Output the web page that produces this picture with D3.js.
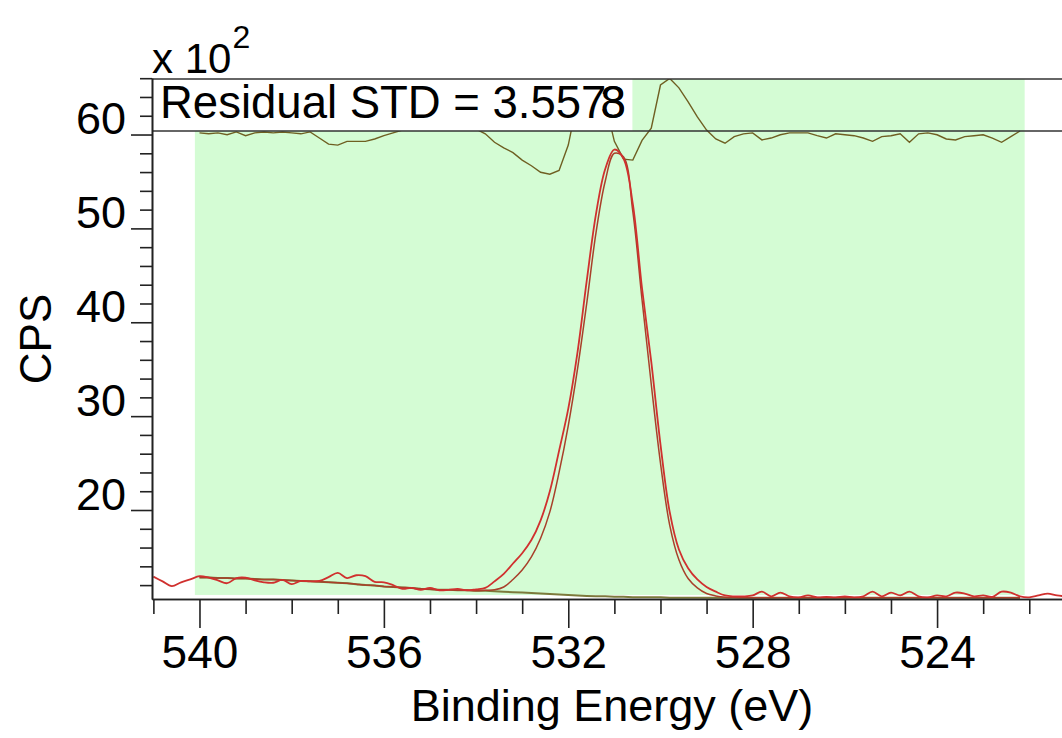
<!DOCTYPE html>
<html><head><meta charset="utf-8">
<script src="https://cdn.jsdelivr.net/npm/d3@7"></script>
<style>
body{margin:0;background:#fff;}
svg{display:block;}
text{font-family:"Liberation Sans",Arial,sans-serif;fill:#000;}
</style>
</head><body>
<svg id="c" width="1062" height="738"></svg>
<script>
// ---------- data (CPS in units of x10^2) ----------
const dataEnergy = [541.0,540.8,540.6,540.4,540.2,540.0,539.8,539.6,539.4,539.2,539.0,538.8,538.6,538.4,538.2,538.0,537.8,537.6,537.4,537.2,537.0,536.8,536.6,536.4,536.2,536.0,535.8,535.6,535.4,535.2,535.0,534.8,534.6,534.4,534.2,534.0,533.8,533.6,533.4,533.2,533.0,532.8,532.6,532.4,532.2,532.0,531.8,531.6,531.4,531.2,531.0,530.8,530.6,530.4,530.2,530.0,529.8,529.6,529.4,529.2,529.0,528.8,528.6,528.4,528.2,528.0,527.8,527.6,527.4,527.2,527.0,526.8,526.6,526.4,526.2,526.0,525.8,525.6,525.4,525.2,525.0,524.8,524.6,524.4,524.2,524.0,523.8,523.6,523.4,523.2,523.0,522.8,522.6,522.4,522.2,522.0,521.8,521.6,521.4,521.2];
const dataCPS = [12.9,12.4,11.9,12.3,12.6,12.95,12.8,12.5,12.2,12.75,12.8,12.5,12.3,12.25,12.55,12.1,12.45,12.4,12.45,12.85,13.3,12.75,13.05,12.95,12.35,12.3,12.0,11.6,11.7,11.5,11.7,11.45,11.5,11.6,11.45,11.55,11.7,12.4,13.2,14.3,15.4,16.8,18.9,22.0,26.3,30.8,36.8,44.4,51.5,56.3,58.4,57.4,52.6,43.6,35.8,27.0,19.8,15.8,13.8,12.6,11.8,11.3,10.9,10.8,10.8,10.9,11.3,10.8,11.2,10.8,10.7,10.9,10.7,10.75,10.7,10.8,10.7,10.8,11.3,10.8,11.2,10.9,11.3,10.8,10.7,10.9,10.8,11.2,11.1,10.8,10.9,10.75,11.3,11.2,10.8,10.7,10.9,11.1,10.9,10.8];

const fitEnergy = [540.0,539.8,539.6,539.4,539.2,539.0,538.8,538.6,538.4,538.2,538.0,537.8,537.6,537.4,537.2,537.0,536.8,536.6,536.4,536.2,536.0,535.8,535.6,535.4,535.2,535.0,534.8,534.6,534.4,534.2,534.0,533.8,533.6,533.4,533.2,533.0,532.8,532.6,532.4,532.2,532.0,531.8,531.6,531.4,531.2,531.0,530.8,530.6,530.4,530.2,530.0,529.8,529.6,529.4,529.2,529.0,528.8,528.6,528.4,528.2,528.0,527.8,527.6,527.4,527.2,527.0,526.8,526.6,526.4,526.2,526.0,525.8,525.6,525.4,525.2,525.0,524.8,524.6,524.4,524.2,524.0,523.8,523.6,523.4,523.2,523.0,522.8,522.6,522.4,522.2];
const backgroundCPS = [12.8,12.8,12.75,12.75,12.7,12.7,12.65,12.6,12.6,12.55,12.5,12.45,12.4,12.35,12.3,12.25,12.2,12.1,12.0,11.95,11.85,11.8,11.75,11.7,11.6,11.55,11.5,11.5,11.45,11.45,11.4,11.4,11.35,11.3,11.25,11.2,11.15,11.1,11.05,11.0,10.95,10.9,10.85,10.8,10.8,10.75,10.75,10.7,10.7,10.7,10.7,10.65,10.65,10.65,10.65,10.65,10.65,10.65,10.65,10.65,10.65,10.65,10.65,10.65,10.65,10.65,10.65,10.65,10.65,10.65,10.65,10.65,10.65,10.65,10.65,10.65,10.65,10.65,10.65,10.65,10.65,10.65,10.65,10.65,10.65,10.65,10.65,10.65,10.65,10.65];
const envelopeCPS = [12.8,12.8,12.75,12.75,12.7,12.7,12.65,12.6,12.6,12.55,12.5,12.45,12.4,12.35,12.3,12.25,12.2,12.1,12.0,11.95,11.85,11.8,11.75,11.7,11.6,11.55,11.5,11.5,11.45,11.45,11.4,11.45,11.5,11.8,12.6,13.6,15.0,17.0,19.8,24.0,29.0,35.0,42.0,49.5,55.0,58.0,57.6,51.8,42.4,33.4,25.0,18.4,14.7,12.7,11.7,11.1,10.85,10.7,10.67,10.65,10.65,10.65,10.65,10.65,10.65,10.65,10.65,10.65,10.65,10.65,10.65,10.65,10.65,10.65,10.65,10.65,10.65,10.65,10.65,10.65,10.65,10.65,10.65,10.65,10.65,10.65,10.65,10.65,10.65,10.65];
const residualCPS = [-0.2,-0.3,-0.2,-0.4,-0.1,-0.5,-0.2,-0.1,-0.2,-0.1,-0.2,-0.3,-0.1,-0.75,-1.4,-1.5,-1.1,-1.1,-1.1,-0.85,-0.5,-0.2,0.1,0.5,0.6,0.7,0.7,0.6,0.5,0.4,0.2,-0.3,-1.2,-1.8,-2.3,-3.1,-3.7,-4.4,-4.6,-4.2,-1.5,3.3,5.0,5.5,3.0,-1.1,-3.0,-3.1,-1.0,0.3,4.9,5.6,4.6,3.1,1.5,0.1,-0.85,-1.3,-0.6,-0.3,-0.2,-0.95,-0.75,-0.4,-0.2,-0.2,-0.2,-0.5,-0.75,-0.3,-0.4,-0.5,-0.75,-1.1,-0.6,-0.5,-0.3,-1.2,-0.3,-0.2,-0.4,-0.85,-0.95,-0.6,-0.5,-0.4,-0.75,-1.2,-0.6,0.0];

const regionStart = 540.1, regionEnd = 522.1;
const xMajorTicks = [540,536,532,528,524];
const xMinorTicks = [541,539,538,537,535,534,533,531,530,529,527,526,525,523,522];
const yMajorTicks = [20,30,40,50,60];
const yMinorTicks = [12,14,16,18,22,24,26,28,32,34,36,38,42,44,46,48,52,54,56,58,62,64,66];
const residualLabel = "Residual STD = 3.557";
const residualOverlap = ["8","3"];

// ---------- layout ----------
const L = 152, R = 1062, T = 78.2, B = 599;
const svg = d3.select('#c');
const x = d3.scaleLinear().domain([541.03, 521.29]).range([L, R]);
const y = d3.scaleLinear().domain([10.52, 66]).range([B, T]);
const resZero = 131;
const resY = d3.scaleLinear().domain([0, 1]).range([resZero, resZero - (y(20) - y(21))]);

const defs = svg.append('defs');
defs.append('clipPath').attr('id','plot').append('rect')
  .attr('x', L).attr('y', 79).attr('width', R - L).attr('height', B - 79);

// fit region
svg.append('rect')
  .attr('x', x(regionStart)).attr('y', 79)
  .attr('width', x(regionEnd) - x(regionStart))
  .attr('height', y(10.95) - 79)
  .attr('fill', '#d4fcd4');

const g = svg.append('g').attr('clip-path','url(#plot)');
const smooth = d3.curveCatmullRom.alpha(0.5);

// residual
g.append('path')
  .attr('d', d3.line().x((d,i)=>x(fitEnergy[i])).y(d=>resY(d))(residualCPS))
  .attr('fill','none').attr('stroke','#6f5f22').attr('stroke-width',1.4);

// residual label box
const boxRect = svg.append('rect').attr('x', L).attr('y', 79).attr('height', 52).attr('fill', '#fff');
const lbl = svg.append('text').attr('x', 160).attr('y', 118)
  .attr('font-size', 45.5).text(residualLabel);
const tw = lbl.node().getComputedTextLength();
residualOverlap.forEach(s => {
  svg.append('text').attr('x', 160 + tw - 6).attr('y', 118).attr('font-size', 45.5).text(s);
});
boxRect.attr('width', 160 + tw + 26 - L);

// box lines
[79, resZero].forEach(yy => {
  svg.append('line').attr('x1', L).attr('x2', R).attr('y1', yy).attr('y2', yy)
    .attr('stroke', '#333').attr('stroke-width', 1.6);
});

// background, envelope, data
g.append('path')
  .attr('d', d3.line().x((d,i)=>x(fitEnergy[i])).y(d=>y(d))(backgroundCPS))
  .attr('fill','none').attr('stroke','#7d7a3c').attr('stroke-width',2);
g.append('path')
  .attr('d', d3.line().curve(smooth).x((d,i)=>x(fitEnergy[i])).y(d=>y(d))(envelopeCPS))
  .attr('fill','none').attr('stroke','#a8402a').attr('stroke-width',1.5);
g.append('path')
  .attr('d', d3.line().curve(smooth).x((d,i)=>x(dataEnergy[i])).y(d=>y(d))(dataCPS))
  .attr('fill','none').attr('stroke','#d0302e').attr('stroke-width',1.8);

// axes
function styleAxis(sel, fs){
  sel.selectAll('path,line').attr('stroke','#222').attr('stroke-width',1.6);
  sel.selectAll('text').attr('font-size',fs).attr('fill','#000')
    .attr('font-family','"Liberation Sans",Arial,sans-serif');
}
const xa1 = svg.append('g').attr('transform',`translate(0,${B})`)
  .call(d3.axisBottom(x).tickValues(xMinorTicks).tickSize(15).tickSizeOuter(0).tickFormat(''));
const xa2 = svg.append('g').attr('transform',`translate(0,${B})`)
  .call(d3.axisBottom(x).tickValues(xMajorTicks).tickSize(29).tickSizeOuter(0).tickPadding(7).tickFormat(d3.format('d')));
styleAxis(xa1, 46); styleAxis(xa2, 46);

const ya1 = svg.append('g').attr('transform',`translate(${L},0)`)
  .call(d3.axisLeft(y).tickValues(yMinorTicks).tickSize(12).tickSizeOuter(0).tickFormat(''));
const ya2 = svg.append('g').attr('transform',`translate(${L},0)`)
  .call(d3.axisLeft(y).tickValues(yMajorTicks).tickSize(21).tickSizeOuter(0).tickPadding(5).tickFormat(d3.format('d')));
styleAxis(ya1, 45); styleAxis(ya2, 45);
ya2.selectAll('text').attr('dy','-0.02em');

// titles
svg.append('text').attr('x', 612).attr('y', 721).attr('text-anchor','middle')
  .attr('font-size', 45).text('Binding Energy (eV)');
svg.append('text').attr('transform','translate(51,339) rotate(-90)').attr('text-anchor','middle')
  .attr('font-size', 44).text('CPS');
const mul = svg.append('text').attr('x', 152).attr('y', 73).attr('font-size', 42).text('x 10');
const mw = mul.node().getComputedTextLength();
svg.append('text').attr('x', 152 + mw + 1).attr('y', 48).attr('font-size', 32).text('2');
</script>
</body></html>
